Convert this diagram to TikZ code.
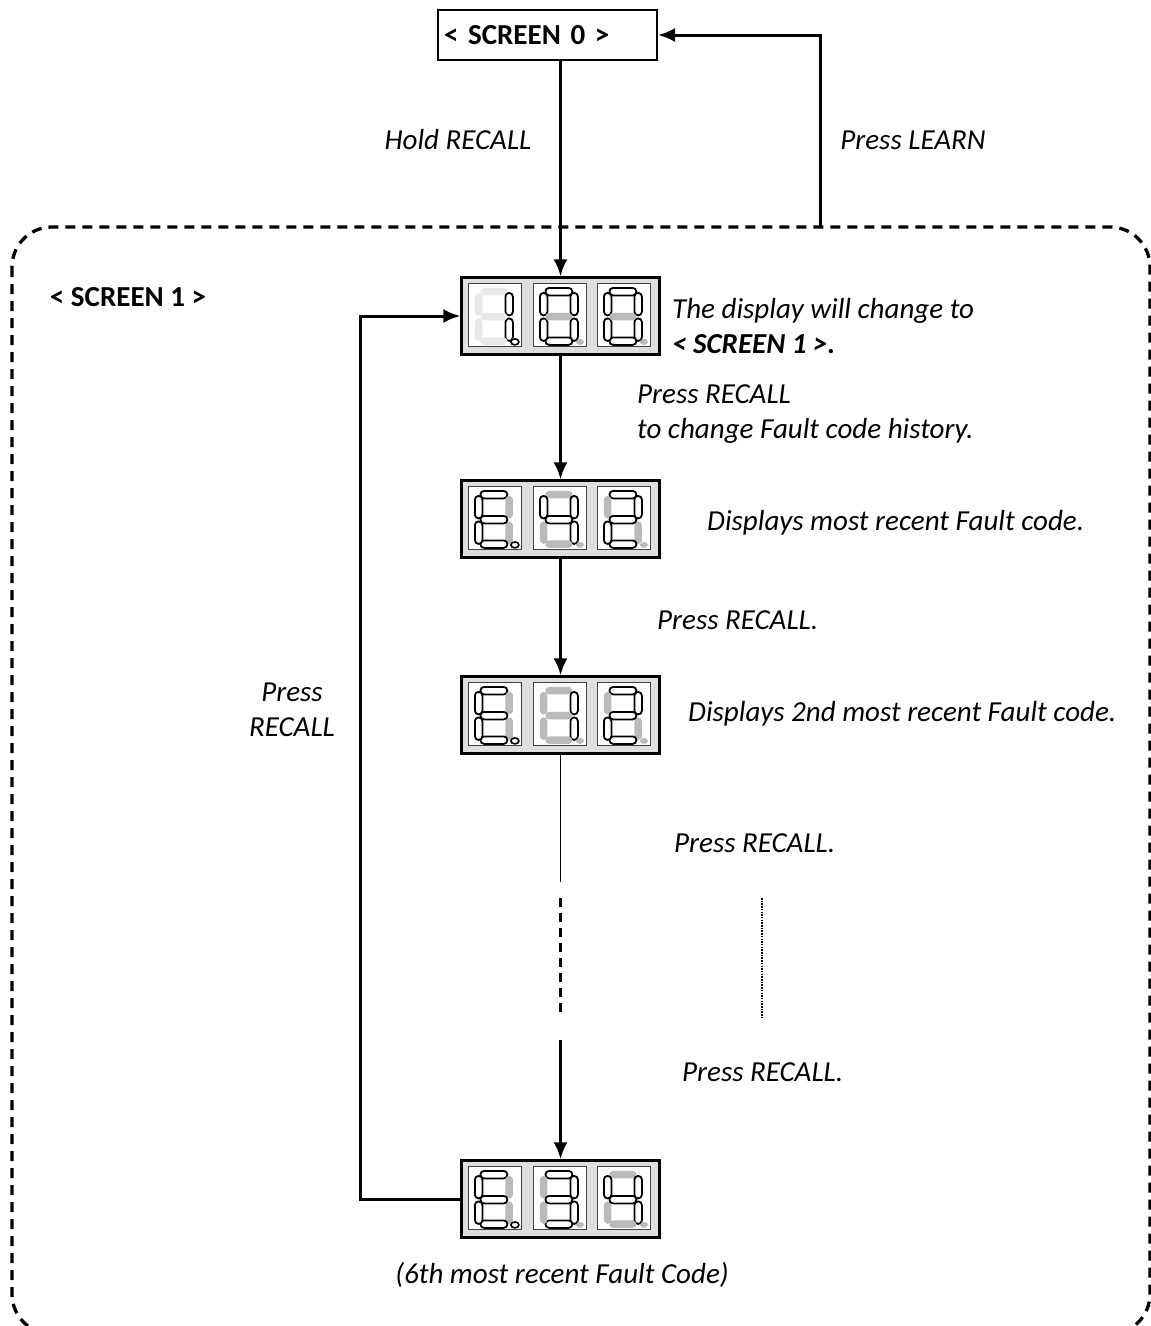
\documentclass[tikz,border=0pt]{standalone}
\usepackage{fontspec}
\setmainfont{Carlito}
\usetikzlibrary{arrows.meta}
\newcommand\dcell[9]{%
\begin{scope}[shift={#1}]
\draw[cellbox] (0,0) rectangle (53,63);
\draw[#2] (12,4.5) rectangle (39,12);
\draw[#3] (37,9.5) rectangle (44.5,32);
\draw[#4] (37,35) rectangle (44.5,57.5);
\draw[#5] (12,54) rectangle (39,61.5);
\draw[#6] (6.5,35) rectangle (14,57.5);
\draw[#7] (6.5,9.5) rectangle (14,32);
\draw[#8] (12,29.5) rectangle (39,37);
\draw[#9] (46.5,58.5) ellipse (4 and 3);
\end{scope}}
\begin{document}
\begin{tikzpicture}[x=1pt,y=-1pt,
  lbl/.style={font=\fontsize{29}{35}\selectfont\itshape, inner sep=0pt},
  blbl/.style={font=\fontsize{29}{35}\selectfont\bfseries, inner sep=0pt},
  arr/.style={line width=3pt, -{Latex[length=17pt,width=14pt]}},
  disp/.style={draw=black, line width=2.2pt, fill=black!13, minimum width=198pt, minimum height=77pt, inner sep=0pt},
  cellbox/.style={draw=black!75, line width=1.5pt, fill=white},
  on/.style={draw=black, line width=1.8pt, fill=white, rounded corners=3.7pt},
  off/.style={draw=none, fill=black!27, rounded corners=3.7pt},
  faint/.style={draw=none, fill=black!9, rounded corners=3.7pt},
  dpon/.style={draw=black, line width=1.6pt, fill=white},
  dpoff/.style={draw=none, fill=black!27}]
\useasboundingbox (0,0) rectangle (1151,1326);

% dashed frame
\draw[line width=3.3pt, dash pattern=on 10pt off 7pt, rounded corners=40pt] (12,227) rectangle (1150,1334);

% screen 0
\node[draw, line width=2pt, minimum height=50pt, text width=207pt, inner xsep=6pt, inner ysep=0pt, align=left, font=\fontsize{29}{35}\selectfont\bfseries] (s0) at (547.5,35) {< SCREEN 0 >};

% displays
\node[disp] (d1) at (560.5,316) {};
\node[disp] (d2) at (560.5,519) {};
\node[disp] (d3) at (560.5,715) {};
\node[disp] (d4) at (560.5,1199) {};

\begin{scope}[shift={(d1.north west)}]
\dcell{(8,7)}{faint}{on}{on}{faint}{faint}{faint}{faint}{dpon}
\dcell{(73,7)}{on}{on}{on}{on}{on}{on}{off}{dpoff}
\dcell{(137,7)}{on}{on}{on}{on}{on}{on}{off}{dpoff}
\end{scope}
\begin{scope}[shift={(d2.north west)}]
\dcell{(8,7)}{on}{off}{off}{on}{on}{on}{on}{dpon}
\dcell{(73,7)}{off}{on}{on}{off}{off}{on}{on}{dpoff}
\dcell{(137,7)}{on}{on}{off}{on}{on}{off}{on}{dpoff}
\end{scope}
\begin{scope}[shift={(d3.north west)}]
\dcell{(8,7)}{on}{off}{off}{on}{on}{on}{on}{dpon}
\dcell{(73,7)}{off}{on}{on}{off}{off}{off}{off}{dpoff}
\dcell{(137,7)}{on}{on}{off}{on}{on}{off}{on}{dpoff}
\end{scope}
\begin{scope}[shift={(d4.north west)}]
\dcell{(8,7)}{on}{off}{off}{on}{on}{on}{on}{dpon}
\dcell{(73,7)}{on}{on}{on}{on}{off}{off}{on}{dpoff}
\dcell{(137,7)}{off}{on}{on}{off}{off}{on}{on}{dpoff}
\end{scope}

% labels
\node[lbl] (hold) at (458,140) {Hold RECALL};
\node[lbl] (learn) at (913,140) {Press LEARN};
\node[blbl] (s1) at (128,297) {< SCREEN 1 >};
\node[lbl, anchor=west, align=left] (t1) at (672,326.5) {The display will change to\\{\bfseries < SCREEN 1 >.}};
\node[lbl, anchor=west, align=left] (t2) at (637,414.5) {Press RECALL\\to change Fault code history.};
\node[lbl, anchor=west] (t3) at (707,523) {Displays most recent Fault code.};
\node[lbl, anchor=west] (t4) at (657,620) {Press RECALL.};
\node[lbl, align=center] (t5) at (292,710) {Press\\RECALL};
\node[lbl, anchor=west] (t6) at (688,714) {Displays 2nd most recent Fault code.};
\node[lbl, anchor=west] (t7) at (674,843) {Press RECALL.};
\node[lbl, anchor=west] (t8) at (682,1072) {Press RECALL.};
\node[lbl] (t9) at (562,1275) {(6th most recent Fault Code)};

% connectors
\coordinate (lrn) at (820,227);
\coordinate (g1) at (560.5,882);
\coordinate (g2) at (560.5,898);
\coordinate (g3) at (560.5,1013);
\coordinate (g4) at (560.5,1040);
\coordinate (v1) at (762,898);
\coordinate (v2) at (762,1019);
\draw[arr] (d1.north |- s0.south) -- (d1.north);
\draw[arr] (lrn) |- (s0.east);
\draw[arr] (d1.south) -- (d2.north);
\draw[arr] (d2.south) -- (d3.north);
\draw[line width=1.5pt] (d3.south) -- (g1);
\draw[line width=3.3pt, dash pattern=on 9pt off 6pt] (g2) -- (g3);
\draw[arr, line width=3.5pt] (g4) -- (d4.north);
\draw[line width=2.8pt, dash pattern=on 1.5pt off 1.2pt] (v1) -- (v2);
\draw[arr] (d4.west) -- ++(-100,0) |- (d1.west);
\end{tikzpicture}
\end{document}
